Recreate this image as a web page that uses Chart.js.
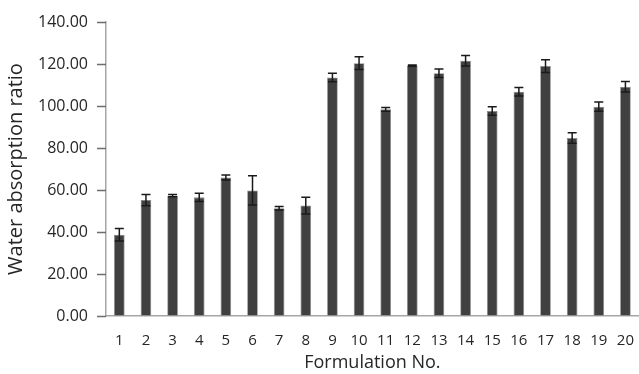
<!DOCTYPE html>
<html>
<head>
<meta charset="utf-8">
<script src="https://cdn.jsdelivr.net/npm/chart.js@4.4.1/dist/chart.umd.min.js"></script>
<style>
  html, body { margin: 0; padding: 0; background: #fff; overflow: hidden; }
  #wrap { width: 642px; height: 374px; position: relative; }
</style>
</head>
<body>
<div id="wrap"><canvas id="myChart"></canvas></div>
<script>
// formulation numbers on the x axis
const formulations = ["1","2","3","4","5","6","7","8","9","10","11","12","13","14","15","16","17","18","19","20"];
// mean water absorption ratio for each formulation
const absorption = [38.7, 55.2, 57.3, 56.5, 66.0, 59.8, 51.3, 52.6, 113.6, 120.4, 98.4, 119.2, 115.6, 121.6, 97.6, 106.8, 119.0, 84.8, 99.7, 109.2];
// error bar half heights (SD)
const errors = [3.0, 2.7, 0.5, 2.0, 1.2, 7.0, 0.8, 4.0, 2.0, 3.0, 0.9, 0.3, 2.0, 2.5, 2.0, 2.0, 3.0, 2.5, 2.2, 2.5];

const ctx = document.getElementById("myChart");
const fontFam = "'Open Sans', sans-serif";

// error bars + outside tick marks on the y axis, both from the y scale
const errorBars = {
  id: "errorBars",
  afterDraw(chart) {
    const c = chart.ctx;
    const yScale = chart.scales.y;
    c.save();
    c.strokeStyle = "#6e6e6e";
    c.lineWidth = 1.5;
    c.beginPath();
    yScale.ticks.forEach((t) => {
      const y = Math.round(yScale.getPixelForValue(t.value)) + 0.5;
      c.moveTo(yScale.right - 9, y);
      c.lineTo(yScale.right, y);
    });
    c.stroke();
    c.restore();
  },
  afterDatasetsDraw(chart) {
    const c = chart.ctx;
    const yScale = chart.scales.y;
    const meta = chart.getDatasetMeta(0);
    c.save();
    c.strokeStyle = "#1a1a1a";
    c.lineWidth = 1.5;
    meta.data.forEach((bar, i) => {
      const x = bar.x;
      const hi = yScale.getPixelForValue(absorption[i] + errors[i]);
      const lo = yScale.getPixelForValue(absorption[i] - errors[i]);
      c.beginPath();
      c.moveTo(x, hi); c.lineTo(x, lo);
      c.moveTo(x - 4.5, hi); c.lineTo(x + 4.5, hi);
      c.moveTo(x - 4.5, lo); c.lineTo(x + 4.5, lo);
      c.stroke();
    });
    c.restore();
  }
};

new Chart(ctx, {
  type: "bar",
  data: {
    labels: formulations,
    datasets: [
      {
        label: "Water absorption ratio",
        data: absorption,
        backgroundColor: "#404040",
        borderColor: "#8a8a8a",
        borderWidth: 0.8,
        barPercentage: 0.4,
        categoryPercentage: 1.0,
      },
    ],
  },
  options: {
    responsive: true,
    maintainAspectRatio: false,
    animation: false,
    layout: { padding: { top: 22, right: 0, left: 0, bottom: 0 } },
    plugins: {
      legend: { display: false },
      tooltip: { enabled: false },
    },
    scales: {
      x: {
        grid: { display: false },
        border: { display: true, color: "#a6a6a6", width: 1.5 },
        ticks: {
          color: "#262626",
          font: { family: fontFam, size: 15 },
          padding: 8,
          maxRotation: 0,
          autoSkip: false,
        },
        title: {
          display: true,
          text: "Formulation No.",
          color: "#262626",
          font: { family: fontFam, size: 18 },
          padding: { top: 0, bottom: 0 },
        },
        afterFit(scale) { scale.height = 58; },
      },
      y: {
        min: 0,
        max: 140,
        grid: {
          drawOnChartArea: false,
          tickLength: 8,
          color: "#8c8c8c",
        },
        border: { display: true, color: "#a6a6a6", width: 1.5 },
        ticks: {
          stepSize: 20,
          color: "#262626",
          font: { family: fontFam, size: 16 },
          padding: 10,
          callback: (v) => v.toFixed(2),
        },
        title: {
          display: true,
          text: "Water absorption ratio",
          color: "#262626",
          font: { family: fontFam, size: 20 },
          padding: { top: 4, bottom: 0 },
        },
        afterFit(scale) { scale.width = 106; },
      },
    },
  },
  plugins: [errorBars],
});
</script>
</body>
</html>
